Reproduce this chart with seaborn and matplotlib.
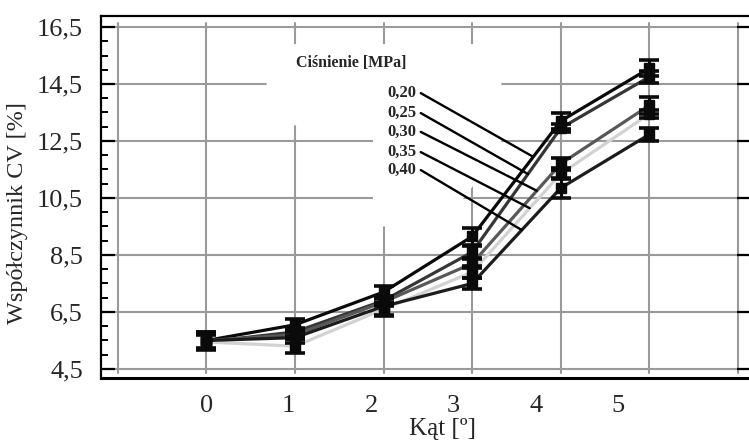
import numpy as np
import pandas as pd
import seaborn as sns
from matplotlib import pyplot as plt
from matplotlib.patches import Polygon

# data
kat = [0, 1, 2, 3, 4, 5]
cisnienie = ['0,20', '0,25', '0,30', '0,35', '0,40']
cv_020 = [5.50, 6.05, 7.20, 9.15, 13.20, 15.05]
cv_025 = [5.45, 5.80, 6.90, 8.60, 12.95, 14.75]
cv_030 = [5.50, 5.70, 6.85, 8.20, 11.70, 13.75]
cv_035 = [5.45, 5.30, 6.60, 7.90, 11.35, 13.45]
cv_040 = [5.50, 5.60, 6.70, 7.50, 10.85, 12.73]
err_020 = [0.30, 0.20, 0.22, 0.30, 0.27, 0.28]
err_025 = [0.25, 0.15, 0.15, 0.20, 0.15, 0.22]
err_030 = [0.25, 0.15, 0.15, 0.15, 0.22, 0.30]
err_035 = [0.30, 0.25, 0.25, 0.20, 0.20, 0.15]
err_040 = [0.30, 0.20, 0.30, 0.20, 0.35, 0.22]
y_ticks = [4.5, 6.5, 8.5, 10.5, 12.5, 14.5, 16.5]

series = [cv_020, cv_025, cv_030, cv_035, cv_040]
errors = [err_020, err_025, err_030, err_035, err_040]
colors = ['#0a0a0a', '#363636', '#585858', '#d2d2d2', '#1c1c1c']

df = pd.DataFrame({
    'kat': kat * len(cisnienie),
    'cv': np.concatenate(series),
    'err': np.concatenate(errors),
    'p': np.repeat(cisnienie, len(kat)),
})

sns.set_theme(style='white')
plt.rcParams['font.family'] = ['Liberation Serif', 'DejaVu Serif']

fig = plt.figure(figsize=(7.49, 4.48), dpi=100)
ax = fig.add_axes([101 / 749, 70 / 448, 650 / 749, 362 / 448])
ax.set_xlim(-1.19, 6.148)
ax.set_ylim(4.184, 16.886)

# grid (vertical lines stop short of the frame, as in the original)
for gx in range(-1, 7):
    ax.plot([gx, gx], [4.35, 16.65], color='#9a9a9a', lw=1.5, zorder=0.5)
for gy in y_ticks:
    ax.axhline(gy, color='#9a9a9a', lw=1.5, zorder=0.5)

# white area behind the pressure labels
mask = Polygon([(0.68, 15.9), (3.33, 15.9), (3.33, 12.2), (2.88, 10.4), (2.42, 9.5),
                (1.88, 9.5), (1.88, 13.05), (0.68, 13.05)],
               closed=True, facecolor='white', edgecolor='none', zorder=1)
ax.add_patch(mask)

sns.lineplot(data=df, x='kat', y='cv', hue='p', palette=colors, linewidth=2.3,
             legend=False, ax=ax, zorder=2)

for vals, errs in zip(series, errors):
    ax.errorbar(kat, vals, yerr=errs, fmt='s', color='#0a0a0a', ms=7,
                elinewidth=2.2, capsize=7, capthick=2.6, zorder=3)

# pressure labels with leader lines
ax.text(1.64, 15.24, 'Ciśnienie [MPa]', ha='center', va='center', fontsize=11.5,
        fontweight='bold', zorder=4)
label_y = [14.18, 13.48, 12.82, 12.11, 11.48]
end_x = [3.69, 3.63, 3.73, 3.65, 3.56]
for name, vals, ly, ex in zip(cisnienie, series, label_y, end_x):
    ey = np.interp(ex, kat, vals)
    ax.text(2.37, ly, name, ha='right', va='center', fontsize=12, fontweight='bold', zorder=4)
    ax.plot([2.42, ex], [ly, ey], color='black', lw=1.7, zorder=4)

# ticks
ax.set_yticks(y_ticks)
ax.set_yticklabels([str(v).replace('.', ',') for v in y_ticks])
ax.set_yticks(np.arange(4.5, 16.6, 0.5), minor=True)
ax.tick_params(axis='y', which='major', direction='in', length=10, width=1.6,
               labelsize=19, pad=13, left=True, right=True, color='black')
ax.tick_params(axis='y', which='minor', direction='in', length=5, width=1.4,
               left=True, right=False, color='black')

ax.set_xticks(np.arange(6) * 0.93)
ax.set_xticklabels([str(k) for k in kat])
ax.tick_params(axis='x', length=0, labelsize=19, pad=12)

ax.set_xlabel('Kąt [º]', fontsize=18)
ax.xaxis.set_label_coords(0.525, -0.11)
ax.set_ylabel('Współczynnik CV [%]', fontsize=17.5)
ax.yaxis.set_label_coords(-0.112, 0.456)

for side, spine in ax.spines.items():
    spine.set_color('black')
    spine.set_linewidth(1.6)
    spine.set_visible(True)
ax.spines['bottom'].set_linewidth(2.2)

fig.savefig('out.png', dpi=100)
